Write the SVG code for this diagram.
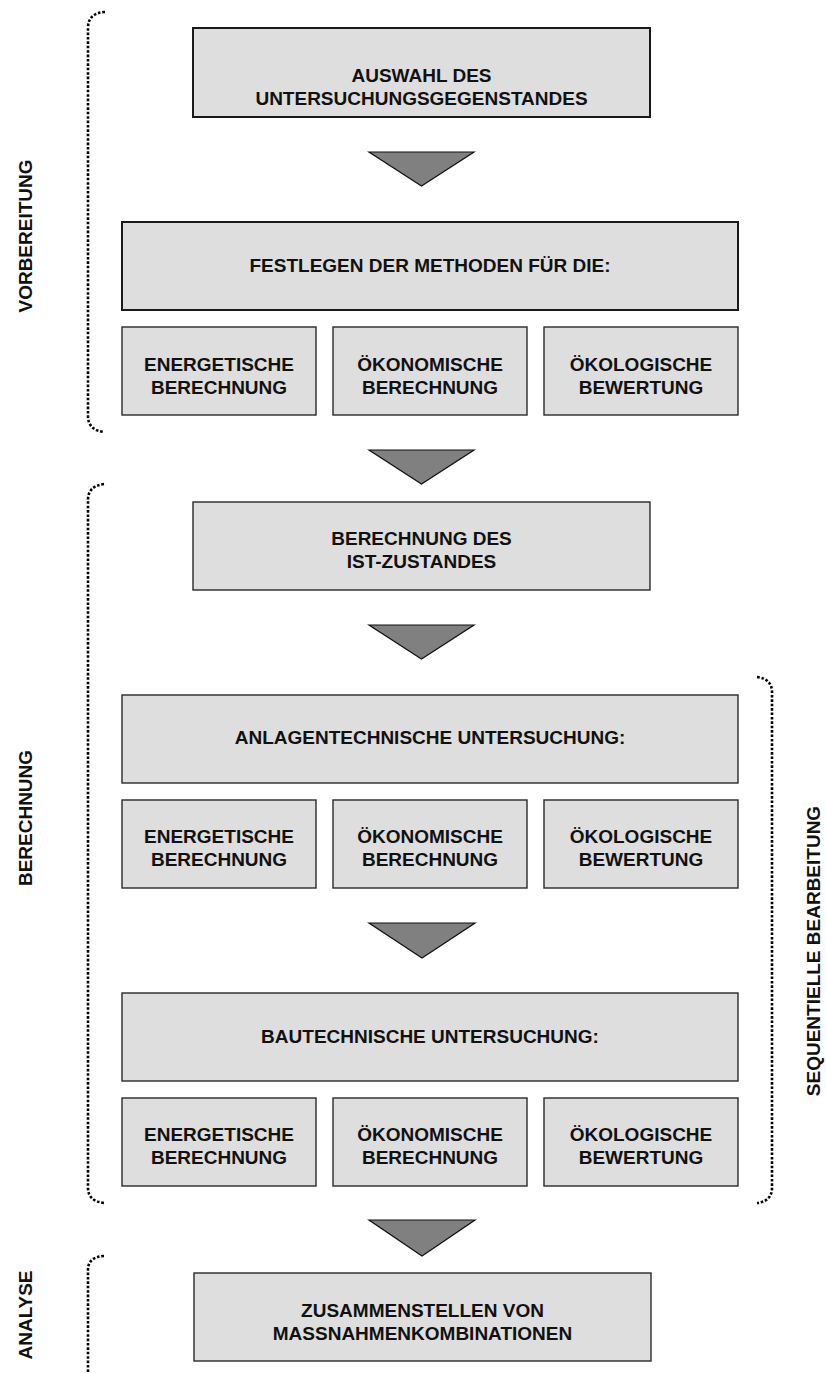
<svg xmlns="http://www.w3.org/2000/svg" width="826" height="1373" viewBox="0 0 826 1373">
<style>
  .box { fill: #dedede; stroke: #2a2a2a; stroke-width: 1.4; }
  .boxb { fill: #dedede; stroke: #1a1a1a; stroke-width: 2; }
  .t { font-family: "Liberation Sans", Arial, sans-serif; font-weight: bold; font-size: 19px; fill: #111; text-anchor: middle; }
  .tri { fill: #808080; stroke: #111; stroke-width: 1.2; stroke-linejoin: miter; }
  .br { fill: none; stroke: #000; stroke-width: 2.6; stroke-dasharray: 2.6 1.8; }
</style>
<rect width="826" height="1373" fill="#fff"/>

<g id="n-auswahl">
  <rect class="boxb" x="193" y="28" width="457" height="89"/>
  <text class="t" x="421.5" y="82">AUSWAHL DES</text>
  <text class="t" x="421.5" y="105">UNTERSUCHUNGSGEGENSTANDES</text>
</g>
<g id="n-festlegen">
  <rect class="boxb" x="122" y="222" width="616" height="88"/>
  <text class="t" x="430" y="272">FESTLEGEN DER METHODEN FÜR DIE:</text>
</g>
<g id="n-f1">
  <rect class="box" x="122" y="327" width="194" height="88"/>
  <text class="t" x="219" y="371">ENERGETISCHE</text>
  <text class="t" x="219" y="394">BERECHNUNG</text>
</g>
<g id="n-f2">
  <rect class="box" x="333" y="327" width="194" height="88"/>
  <text class="t" x="430" y="371">ÖKONOMISCHE</text>
  <text class="t" x="430" y="394">BERECHNUNG</text>
</g>
<g id="n-f3">
  <rect class="box" x="544" y="327" width="194" height="88"/>
  <text class="t" x="641" y="371">ÖKOLOGISCHE</text>
  <text class="t" x="641" y="394">BEWERTUNG</text>
</g>

<g id="n-ist">
  <rect class="box" x="193" y="502" width="457" height="88"/>
  <text class="t" x="421.5" y="545">BERECHNUNG DES</text>
  <text class="t" x="421.5" y="568">IST-ZUSTANDES</text>
</g>

<g id="n-anlagen">
  <rect class="box" x="122" y="695" width="616" height="88"/>
  <text class="t" x="430" y="744">ANLAGENTECHNISCHE UNTERSUCHUNG:</text>
</g>
<g id="n-a1">
  <rect class="box" x="122" y="800" width="194" height="88"/>
  <text class="t" x="219" y="843">ENERGETISCHE</text>
  <text class="t" x="219" y="866">BERECHNUNG</text>
</g>
<g id="n-a2">
  <rect class="box" x="333" y="800" width="194" height="88"/>
  <text class="t" x="430" y="843">ÖKONOMISCHE</text>
  <text class="t" x="430" y="866">BERECHNUNG</text>
</g>
<g id="n-a3">
  <rect class="box" x="544" y="800" width="194" height="88"/>
  <text class="t" x="641" y="843">ÖKOLOGISCHE</text>
  <text class="t" x="641" y="866">BEWERTUNG</text>
</g>

<g id="n-bau">
  <rect class="box" x="122" y="993" width="616" height="88"/>
  <text class="t" x="430" y="1043">BAUTECHNISCHE UNTERSUCHUNG:</text>
</g>
<g id="n-b1">
  <rect class="box" x="122" y="1098" width="194" height="88"/>
  <text class="t" x="219" y="1141">ENERGETISCHE</text>
  <text class="t" x="219" y="1164">BERECHNUNG</text>
</g>
<g id="n-b2">
  <rect class="box" x="333" y="1098" width="194" height="88"/>
  <text class="t" x="430" y="1141">ÖKONOMISCHE</text>
  <text class="t" x="430" y="1164">BERECHNUNG</text>
</g>
<g id="n-b3">
  <rect class="box" x="544" y="1098" width="194" height="88"/>
  <text class="t" x="641" y="1141">ÖKOLOGISCHE</text>
  <text class="t" x="641" y="1164">BEWERTUNG</text>
</g>

<g id="n-zus">
  <rect class="box" x="194" y="1273" width="457" height="88"/>
  <text class="t" x="422.5" y="1317">ZUSAMMENSTELLEN VON</text>
  <text class="t" x="422.5" y="1340">MASSNAHMENKOMBINATIONEN</text>
</g>

<g id="connectors">
  <polygon class="tri" points="369,152 474,152 421.5,186"/>
  <polygon class="tri" points="369,450 474,450 421.5,484"/>
  <polygon class="tri" points="369,625 474,625 421.5,659"/>
  <polygon class="tri" points="369,923 475,923 422,958"/>
  <polygon class="tri" points="369,1220 475,1220 422,1256"/>
</g>

<g id="phases">
  <path class="br" d="M105,12 Q88,13 88,28 L88,416 Q88,430 104,432"/>
  <path class="br" d="M104,484 Q88,486 88,500 L88,1188 Q88,1201 104,1203"/>
  <path class="br" d="M104,1256 Q88,1257 88,1270 L88,1373"/>
  <path class="br" d="M757,677 Q772,679 772,692 L772,1188 Q772,1201 757,1203"/>
  <text class="t" transform="translate(32,236) rotate(-90)">VORBEREITUNG</text>
  <text class="t" transform="translate(32,818) rotate(-90)">BERECHNUNG</text>
  <text class="t" transform="translate(32,1315) rotate(-90)">ANALYSE</text>
  <text class="t" transform="translate(820,951) rotate(-90)">SEQUENTIELLE BEARBEITUNG</text>
</g>
</svg>
